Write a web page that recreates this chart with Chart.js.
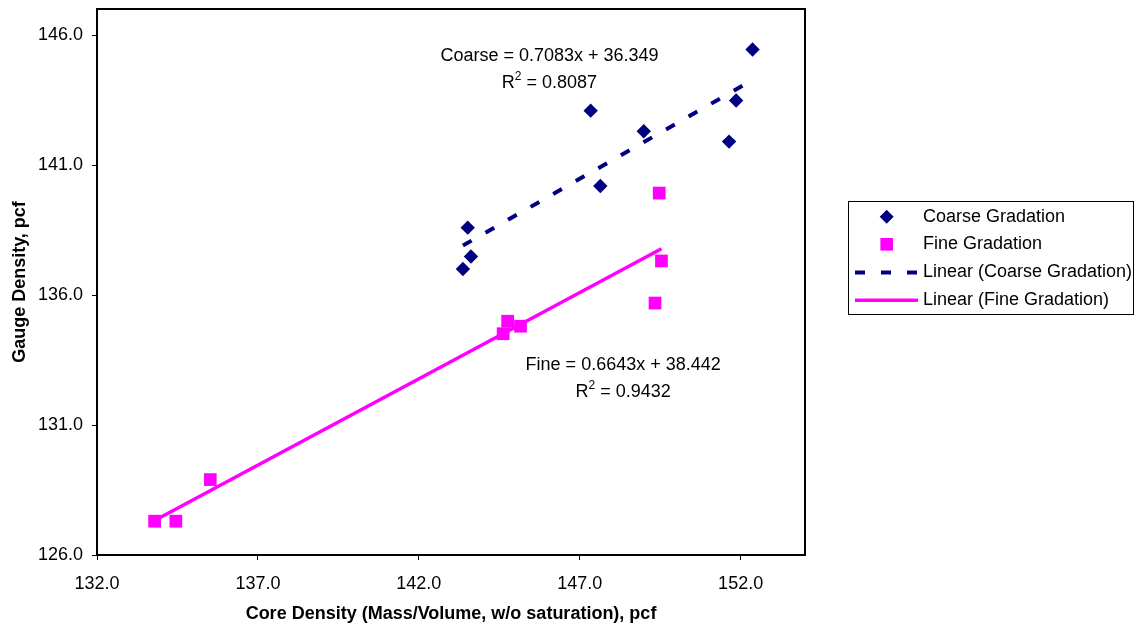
<!DOCTYPE html>
<html>
<head>
<meta charset="utf-8">
<script src="https://cdn.jsdelivr.net/npm/chart.js@4.4.1/dist/chart.umd.min.js"></script>
<style>
  html, body { margin: 0; padding: 0; background: #fff; }
  #wrap { width: 1135px; height: 625px; }
</style>
</head>
<body>
<div id="wrap"><canvas id="grafica" width="1135" height="625"></canvas></div>
<script>
// ─── DATOS ────────────────────────────────────────────────────────────────
const coarseX = [143.37, 143.52, 143.62, 147.34, 147.64, 148.99, 151.64, 151.86, 152.37];
const coarseY = [137.00, 138.59, 137.48, 143.09, 140.19, 142.30, 141.90, 143.48, 145.44];
const fineX   = [133.79, 134.45, 135.52, 144.62, 144.76, 145.16, 149.34, 149.47, 149.54];
const fineY   = [127.30, 127.30, 128.90, 134.51, 134.99, 134.80, 135.69, 139.92, 137.31];

// trend lines (end points)
const coarseTrendX = [143.37, 152.37];
const coarseTrendY = [137.90, 144.27];
const fineTrendX   = [133.79, 149.54];
const fineTrendY   = [127.33, 137.78];

const xTicks = [132, 137, 142, 147, 152];
const yTicks = [126, 131, 136, 141, 146];

const seriesNames = ['Coarse Gradation', 'Fine Gradation', 'Linear (Coarse Gradation)', 'Linear (Fine Gradation)'];
const xTitle = 'Core Density (Mass/Volume, w/o saturation), pcf';
const yTitle = 'Gauge Density, pcf';

const equations = [
  { eq: 'Coarse = 0.7083x + 36.349', r2: '0.8087', at: [146.06, 145.18] },
  { eq: 'Fine = 0.6643x + 38.442',   r2: '0.9432', at: [148.35, 133.30] }
];

const NAVY = '#000080';
const MAGENTA = '#FF00FF';
const FONT = '"Liberation Sans", Arial, sans-serif';

const pts = (xs, ys) => xs.map((x, i) => ({ x, y: ys[i] }));

// ─── PLUGINS ──────────────────────────────────────────────────────────────
const framePlugin = {
  id: 'frame',
  beforeDatasetsDraw(c) {
    const a = c.chartArea, ctx = c.ctx;
    ctx.save();
    ctx.strokeStyle = '#000';
    ctx.lineWidth = 2;
    ctx.strokeRect(a.left, a.top, a.right - a.left, a.bottom - a.top);
    ctx.restore();
  }
};

const eqPlugin = {
  id: 'equations',
  afterDatasetsDraw(c) {
    const ctx = c.ctx, sx = c.scales.x, sy = c.scales.y;
    ctx.save();
    ctx.fillStyle = '#000';
    ctx.textBaseline = 'middle';
    equations.forEach(e => {
      const px = sx.getPixelForValue(e.at[0]);
      const py = sy.getPixelForValue(e.at[1]);
      ctx.font = '18px ' + FONT;
      ctx.textAlign = 'center';
      ctx.fillText(e.eq, px, py);
      // R² line
      const rest = ' = ' + e.r2;
      const wR = ctx.measureText('R').width;
      const wRest = ctx.measureText(rest).width;
      ctx.font = '12px ' + FONT;
      const w2 = ctx.measureText('2').width;
      const total = wR + w2 + wRest;
      const x0 = px - total / 2;
      const y2 = py + 27;
      ctx.textAlign = 'left';
      ctx.font = '18px ' + FONT;
      ctx.fillText('R', x0, y2);
      ctx.font = '12px ' + FONT;
      ctx.fillText('2', x0 + wR, y2 - 7);
      ctx.font = '18px ' + FONT;
      ctx.fillText(rest, x0 + wR + w2, y2);
    });
    ctx.restore();
  }
};

const legendPlugin = {
  id: 'boxLegend',
  afterDraw(c) {
    const ctx = c.ctx;
    const bx = 848.5, by = 201.5, bw = 285, bh = 113;
    const rows = [216.7, 244.3, 272.5, 300.3];
    ctx.save();
    ctx.fillStyle = '#fff';
    ctx.fillRect(bx, by, bw, bh);
    ctx.strokeStyle = '#000';
    ctx.lineWidth = 1;
    ctx.strokeRect(bx, by, bw, bh);

    // coarse diamond
    ctx.fillStyle = NAVY;
    ctx.beginPath();
    ctx.moveTo(886.7, rows[0] - 7);
    ctx.lineTo(893.7, rows[0]);
    ctx.lineTo(886.7, rows[0] + 7);
    ctx.lineTo(879.7, rows[0]);
    ctx.closePath();
    ctx.fill();
    // fine square
    ctx.fillStyle = MAGENTA;
    ctx.fillRect(880.4, rows[1] - 6.3, 12.6, 12.6);
    // coarse trend
    ctx.strokeStyle = NAVY;
    ctx.lineWidth = 4;
    ctx.setLineDash([10, 16]);
    ctx.beginPath();
    ctx.moveTo(855, rows[2]);
    ctx.lineTo(918, rows[2]);
    ctx.stroke();
    // fine trend
    ctx.setLineDash([]);
    ctx.strokeStyle = MAGENTA;
    ctx.lineWidth = 3.5;
    ctx.beginPath();
    ctx.moveTo(855, rows[3]);
    ctx.lineTo(918, rows[3]);
    ctx.stroke();

    ctx.fillStyle = '#000';
    ctx.font = '18px ' + FONT;
    ctx.textAlign = 'left';
    ctx.textBaseline = 'middle';
    seriesNames.forEach((n, i) => ctx.fillText(n, 923, rows[i]));
    ctx.restore();
  }
};

// ─── GRÁFICA ──────────────────────────────────────────────────────────────
const axisCommon = {
  type: 'linear',
  border: { display: false },
  grid: {
    display: true,
    drawOnChartArea: false,
    drawTicks: true,
    tickLength: 5,
    tickColor: '#000',
    tickWidth: 1
  },
  ticks: {
    color: '#000',
    font: { family: FONT, size: 18 },
    padding: 9,
    callback: v => v.toFixed(1)
  },
  title: {
    display: true,
    color: '#000',
    font: { family: FONT, size: 18, weight: 'bold' }
  }
};

new Chart(document.getElementById('grafica'), {
  type: 'scatter',
  data: {
    datasets: [
      {
        label: seriesNames[2],
        type: 'line',
        data: pts(coarseTrendX, coarseTrendY),
        borderColor: NAVY,
        borderWidth: 4,
        borderDash: [10, 16],
        pointRadius: 0,
        fill: false,
        order: 0
      },
      {
        label: seriesNames[3],
        type: 'line',
        data: pts(fineTrendX, fineTrendY),
        borderColor: MAGENTA,
        borderWidth: 3.5,
        pointRadius: 0,
        fill: false,
        order: 1
      },
      {
        label: seriesNames[0],
        data: pts(coarseX, coarseY),
        pointStyle: 'rectRot',
        pointRadius: 7.2,
        backgroundColor: NAVY,
        borderColor: NAVY,
        borderWidth: 0,
        order: 2
      },
      {
        label: seriesNames[1],
        data: pts(fineX, fineY),
        pointStyle: 'rect',
        pointRadius: 9,
        backgroundColor: MAGENTA,
        borderColor: MAGENTA,
        borderWidth: 0,
        order: 3
      }
    ]
  },
  options: {
    responsive: false,
    animation: false,
    devicePixelRatio: 1,
    layout: { padding: { left: 0, top: 9, right: 330, bottom: 0 } },
    plugins: {
      legend: { display: false },
      tooltip: { enabled: false }
    },
    scales: {
      x: {
        ...axisCommon,
        min: 132, max: 154,
        ticks: { ...axisCommon.ticks, padding: 13 },
        afterBuildTicks: s => { s.ticks = xTicks.map(v => ({ value: v })); },
        afterFit: s => { s.height = 70; s.paddingLeft = 0; s.paddingRight = 0; },
        title: { ...axisCommon.title, text: xTitle, padding: { top: 0, bottom: 0 } }
      },
      y: {
        ...axisCommon,
        min: 126, max: 147,
        afterBuildTicks: s => { s.ticks = yTicks.map(v => ({ value: v })); },
        afterFit: s => { s.width = 97; s.paddingTop = 0; s.paddingBottom = 0; },
        title: { ...axisCommon.title, text: yTitle, padding: { top: 9.5, bottom: 0 } }
      }
    }
  },
  plugins: [framePlugin, eqPlugin, legendPlugin]
});
</script>
</body>
</html>
